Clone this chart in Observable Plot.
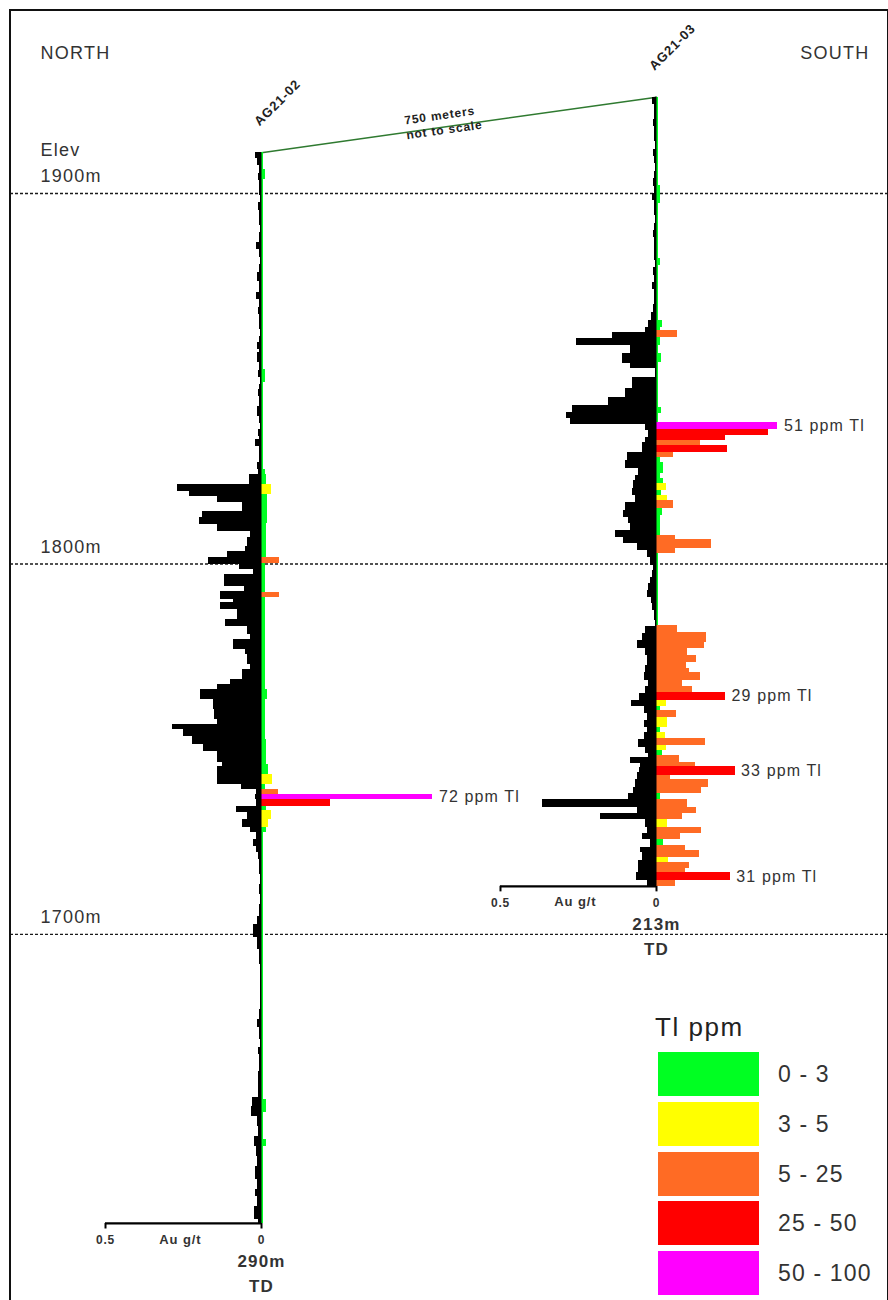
<!DOCTYPE html>
<html>
<head>
<meta charset="utf-8">
<script src="https://cdn.jsdelivr.net/npm/d3@7"></script>
<script src="https://cdn.jsdelivr.net/npm/@observablehq/plot@0.6"></script>
<style>
  body { margin: 0; background: #fff; font-family: Arial, "Liberation Sans", sans-serif; }
  #wrap { position: relative; width: 888px; height: 1300px; overflow: hidden; background: #fff; }
  #border { position: absolute; left: 9px; top: 9px; width: 876px; height: 1300px;
            border-left: 2px solid #111; border-top: 2px solid #111; border-right: 2px solid #111; pointer-events: none; }
  #chart { position: absolute; left: 0; top: 0; }
  svg text { letter-spacing: 0.07em; }
  #legend { position: absolute; left: 655px; top: 1010px; width: 230px; color: #222; }
  #legend .title { font-size: 26px; letter-spacing: 0.06em; height: 40px; line-height: 34px; white-space: nowrap; }
  #legend .row { position: relative; height: 49.8px; }
  #legend .sw { position: absolute; left: 3px; top: 2px; width: 101px; height: 44px; }
  #legend .lab { position: absolute; left: 123px; top: 0; line-height: 48px; font-size: 23px; letter-spacing: 0.05em; color: #333; white-space: nowrap; }
</style>
</head>
<body>
<div id="wrap">
  <div id="chart"></div>
  <div id="border"></div>
  <div id="legend"></div>
</div>
<script>
// ---------------- DATA ----------------
const holes = ["AG21-02", "AG21-03"];
const collarElev = [1911, 1926];          // m
const totalDepth = [289, 213];            // m along hole (drawn)
const tdLabels = ["290m", "213m"];
const elevLines = [1900, 1800, 1700];
const sectionNote = ["750 meters", "not to scale"];
const auAxisTicks = [0.5, 0];
const auAxisTitle = "Au g/t";

// Tl ppm classes
const tlBreaks = [3, 5, 25, 50];
const tlClassLabels = ["0 - 3", "3 - 5", "5 - 25", "25 - 50", "50 - 100"];
const tlColors = ["#00ff22", "#ffff00", "#ff6b24", "#ff0000", "#ff00ff"];

// AG21-02 Au g/t (interval "from" depths, m; each runs to the next one / TD)
const auFrom02 = [0,1.5,3.5,5.5,7.5,9.5,11.5,13.5,15.5,17.5,19.5,21.5,24.3,26.2,28.2,30.2,32.2,34.8,37.8,39.7,
  41.7,43.7,45.7,47.7,49.5,51.3,53.2,54,56.7,58.7,60.7,62.5,64,65.9,68.6,71.3,73,74.8,76.7,77.5,79.4,81.5,83.7,
  85.6,86.9,89.6,91.5,92.8,94.5,96.9,98.5,100.4,102.3,103.9,106.3,107.7,109.3,111.2,112.6,113.9,117.1,118.5,120.6,
  121.5,123.3,126.0,127.9,130.1,131.4,134.1,135.5,138.2,139.5,142.2,143.6,144.9,147.6,150.3,153.0,154.4,155.7,157.6,159.8,
  161.7,164.6,165.7,170.6,171.9,173.3,174.6,176.5,178.1,180.0,182.2,183.5,185.4,187.3,188.9,
  190.8,192.7,194.9,197.6,200.3,203.0,206.2,208.4,211.9,215.1,219.2,223.2,227.3,231.3,234.0,236.2,239.4,241.6,243.5,248.0,
  251.5,255.1,257.5,260.2,262.9,265.6,268.3,271.0,273.6,277.2,279.9,281.8,284.5,288.0];
const au02 = [0.02,0.012,0.006,0.01,0.005,0.008,0.004,0.009,0.005,0.008,0.004,0.006,0.016,0.006,0.004,0.007,0.012,0.005,0.015,0.006,
  0.009,0.005,0.008,0.004,0.007,0.012,0.006,0.012,0.005,0.009,0.004,0.007,0.01,0.005,0.012,0.006,0.004,0.01,0.006,0.018,0.007,0.005,0.012,
  0.01,0.04,0.27,0.23,0.14,0.06,0.19,0.2,0.14,0.035,0.045,0.05,0.11,0.17,0.07,0.025,0.12,0.055,0.13,0.09,
  0.13,0.077,0.115,0.045,0.035,0.09,0.05,0.045,0.035,0.06,0.1,0.14,0.195,0.155,0.15,0.14,0.285,0.25,0.22,0.185,
  0.14,0.125,0.14,0.065,0.015,0.02,0.015,0.08,0.045,0.06,0.035,0.015,0.025,0.015,0.01,
  0.006,0.007,0.004,0.005,0.003,0.005,0.012,0.026,0.014,0.008,0.003,0.004,0.003,0.005,0.014,0.005,0.004,0.011,0.005,0.01,
  0.009,0.028,0.032,0.013,0.011,0.022,0.016,0.014,0.018,0.012,0.02,0.012,0.022,0.01];

// AG21-02 Tl ppm
const tlFrom02 = [0,4.6,7.3,58.6,62.1,85.6,86.9,89.6,92.3,100,109.3,110.9,118.8,120.1,144.9,147.6,158.4,165.2,167.9,170.6,
  171.9,173.3,174.6,176.5,177.6,180.0,182.2,183.5,255.6,259.1,266.4,268.3];
const tl02 = [1,1.8,1,1.8,1,1.8,2,4,2.5,2,7.6,1.8,7.6,1.5,2.5,1.5,2,2.8,4.5,1.5,
  7,72,29,2,4,3,2,1,2,1,2,1];

// AG21-03 Au g/t
const auFrom03 = [0,2,4,6,8,10,12,14,16,18,20,22,24,26,28,30,32,34,36,38,40,42,44,46,48,50,52,54,56,58,
  60.2,62.1,63.4,65.0,66.9,69.1,71.8,73.1,75.6,78.5,81.0,83.1,85.0,86.6,88.3,89.9,91.8,93.1,95.8,98.0,
  100.1,102.0,103.4,105.5,107.4,109.3,111.5,113.4,115.0,116.9,118.8,120.4,122.3,124.2,126.3,127.7,129.6,131.2,133.1,135.0,
  136.6,138.5,141.2,143.0,144.7,146.6,148.7,150.6,153.3,155.2,157.4,159.2,160.9,162.8,164.6,166.3,168.2,170.0,171.6,173.5,
  175.4,177.1,178.1,179.8,180.8,182.4,184.3,186.2,187.9,189.7,191.6,193.3,195.1,197.0,198.7,200.5,202.4,204.0,205.9,207.8,
  209.4,211.3];
const au03 = [0.014,0.008,0.006,0.01,0.005,0.008,0.004,0.009,0.006,0.003,0.007,0.01,0.006,0.012,0.005,0.008,0.004,0.007,0.01,0.005,
  0.008,0.006,0.004,0.009,0.006,0.012,0.007,0.005,0.01,0.016,
  0.026,0.035,0.14,0.255,0.083,0.11,0.083,0.003,0.077,0.1,0.155,0.27,0.29,0.275,0.035,0.026,0.035,0.045,0.093,0.1,
  0.058,0.067,0.074,0.077,0.067,0.1,0.105,0.09,0.083,0.13,0.105,0.06,0.03,0.02,0.01,0.013,0.02,0.026,0.03,0.016,
  0.013,0.006,0.003,0.035,0.045,0.06,0.035,0.03,0.035,0.04,0.025,0.035,0.055,0.08,0.04,0.03,0.04,0.03,0.04,0.058,
  0.035,0.025,0.083,0.05,0.055,0.06,0.067,0.074,0.09,0.365,0.06,0.18,0.035,0.03,0.045,0.02,0.05,0.045,0.058,0.058,
  0.064,0.03];

// AG21-03 Tl ppm
const tlFrom03 = [0,23.8,28.6,43.5,45.3,60.2,62.1,62.9,64.8,66.9,69.1,71.5,83.7,85.3,87.7,89.6,91.2,92.6,93.9,95.8,
  97.2,98.5,101.5,102.8,104.2,106.1,107.4,108.8,110.9,112.8,118.2,119.4,121.7,123.1,142.5,144.4,147.1,148.7,150.6,152.5,
  154.1,155.2,157.4,159.0,160.6,162.8,164.6,165.5,167.4,170.0,171.6,173.0,174.9,176.3,177.6,179.5,180.6,183.0,184.3,186.2,
  187.9,189.7,191.6,193.3,195.1,197.0,198.7,200.5,201.9,203.2,205.1,206.7,208.1,209.4,211.3];
const tl03 = [1,1.8,1,1.6,1,2.5,1.5,9,1.5,1,2,1,2,1,51,47,29,18.5,30,7,
  1.5,2.8,1.5,2.8,4.2,2,4.6,7,2.5,1.8,8,23,8,0.8,9,21,20,13,17,12.6,
  14,18.5,11,15,29,4.2,1.5,8.5,4.5,1.5,3.8,20.6,4,2.5,9.7,16.4,33,6,22,19,
  1.7,13,17,11,4.5,19,10,2.8,12,18,4.9,14,12,31,8];

// Annotated Tl intervals (hole, interval from-depth)
const noteHole = ["AG21-02", "AG21-03", "AG21-03", "AG21-03", "AG21-03"];
const noteFrom = [173.3, 87.7, 160.6, 180.6, 209.4];

// ---------------- LAYOUT (not data) ----------------
const sectionX = [0, 1.266];      // hole positions along the (not-to-scale) section, in Au-bar units
const tlPerUnit = 131;            // ppm of Tl per Au g/t of bar length
const auFromAll = [auFrom02, auFrom03], auAll = [au02, au03];
const tlFromAll = [tlFrom02, tlFrom03], tlAll = [tl02, tl03];

function rows(from, vals, k) {
  return from.map((f, i) => {
    const to = i + 1 < from.length ? from[i + 1] : totalDepth[k];
    return { hole: holes[k], x0: sectionX[k], v: vals[i], from: f, to,
             top: collarElev[k] - f, bot: collarElev[k] - to, mid: collarElev[k] - (f + to) / 2 };
  });
}
const auRows = holes.flatMap((h, k) => rows(auFromAll[k], auAll[k], k));
const tlRows = holes.flatMap((h, k) => rows(tlFromAll[k], tlAll[k], k));
const holeRows = holes.map((h, k) => ({ name: h, x: sectionX[k], collar: collarElev[k],
  bottom: collarElev[k] - totalDepth[k], td: tdLabels[k] }));
const noteRows = noteHole.map((h, i) => tlRows.find(r => r.hole === h && r.from === noteFrom[i]));
const tickRows = holeRows.flatMap(h => auAxisTicks.map(t => ({ x: h.x - t, y: h.bottom, label: String(t) })));
const lerp = (a, b, t) => a + (b - a) * t;
const notePos = [0.451, 0.463];   // fraction along the collar link
const noteMark = (i, dy) => Plot.text([sectionNote[i]], {
  x: () => lerp(sectionX[0], sectionX[1], notePos[i]), y: () => lerp(collarElev[0], collarElev[1], notePos[i]),
  text: d => d, dy, rotate: -8, fontSize: 12, fontWeight: "bold", fill: "#222" });

const chart = Plot.plot({
  width: 888, height: 1300,
  marginLeft: 10, marginRight: 0, marginTop: 0, marginBottom: 0,
  x: { domain: [-0.8045, 2.0096], axis: null },
  y: { domain: [1601.2, 1952.1], axis: null },
  color: { type: "threshold", domain: tlBreaks, range: tlColors },
  style: { fontFamily: "Arial, 'Liberation Sans', sans-serif", background: "transparent", color: "#333" },
  marks: [
    Plot.ruleY(elevLines, { stroke: "#1a1a1a", strokeWidth: 1.3, strokeDasharray: "3,2" }),
    Plot.line(holeRows, { x: "x", y: "collar", stroke: "#2f7a30", strokeWidth: 1.5 }),
    Plot.rect(tlRows, { x1: "x0", x2: d => d.x0 + d.v / tlPerUnit, y1: "top", y2: "bot", fill: "v", shapeRendering: "crispEdges" }),
    Plot.rect(auRows, { x1: d => d.x0 - d.v, x2: "x0", y1: "top", y2: "bot", fill: "#000", shapeRendering: "crispEdges" }),
    Plot.ruleX(holeRows, { x: "x", y1: "collar", y2: "bottom", stroke: "#000", strokeWidth: 1.5, dx: -0.75 }),
    // Au scale bars
    Plot.ruleY(holeRows, { y: "bottom", x1: d => d.x - 0.5, x2: "x", stroke: "#000", strokeWidth: 2.2 }),
    Plot.ruleX(tickRows, { x: "x", y1: "y", y2: d => d.y - 1.5, stroke: "#000", strokeWidth: 2 }),
    Plot.text(tickRows, { x: "x", y: "y", text: "label", dy: 17, fontSize: 12, fontWeight: "bold", fill: "#333" }),
    Plot.text(holeRows, { x: d => d.x - 0.26, y: "bottom", text: () => auAxisTitle, dy: 16, fontSize: 13, fontWeight: "bold", fill: "#333" }),
    Plot.text(holeRows, { x: "x", y: "bottom", text: "td", dy: 38, fontSize: 17, fontWeight: "bold", fill: "#333" }),
    Plot.text(holeRows, { x: "x", y: "bottom", text: () => "TD", dy: 63, fontSize: 17, fontWeight: "bold", fill: "#333" }),
    // hole names
    Plot.text(holeRows, { x: "x", y: "collar", text: "name", dx: 16, dy: -50, rotate: -45, fontSize: 13, fontWeight: "bold", fill: "#222" }),
    // section note
    noteMark(0, -12),
    noteMark(1, 3),
    // Tl annotations
    Plot.text(noteRows, { x: d => d.x0 + d.v / tlPerUnit, y: "mid", text: d => `${d.v} ppm Tl`, dx: 6, textAnchor: "start", fontSize: 16, fill: "#333" }),
    // elevation labels
    Plot.text(elevLines, { y: d => d, frameAnchor: "left", dx: 30, dy: -17, text: d => d + "m", textAnchor: "start", fontSize: 18, fill: "#333" }),
    Plot.text(["Elev"], { y: () => elevLines[0], frameAnchor: "left", dx: 30, dy: -43, text: d => d, textAnchor: "start", fontSize: 18, fill: "#333" }),
    Plot.text(["NORTH"], { frameAnchor: "top-left", dx: 30, dy: 46, text: d => d, textAnchor: "start", fontSize: 18, fill: "#333" }),
    Plot.text(["SOUTH"], { frameAnchor: "top-right", dx: -19, dy: 46, text: d => d, textAnchor: "end", fontSize: 18, fill: "#333" })
  ]
});
document.getElementById("chart").appendChild(chart);

// legend
const lg = document.getElementById("legend");
lg.innerHTML = `<div class="title">Tl ppm</div>` + tlClassLabels.map((l, i) =>
  `<div class="row"><div class="sw" style="background:${tlColors[i]}"></div><div class="lab">${l}</div></div>`).join("");
</script>
</body>
</html>
